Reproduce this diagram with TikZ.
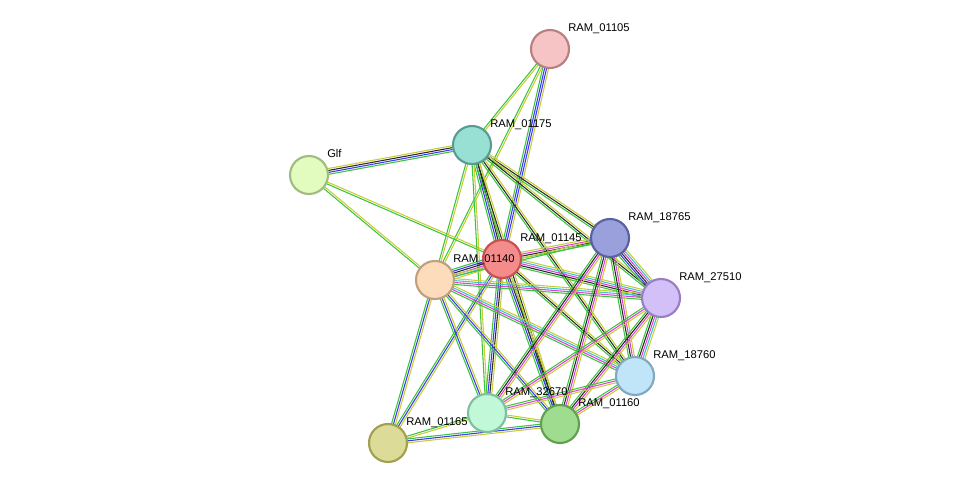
\documentclass[tikz,border=0pt]{standalone}
\usepackage{fontspec}
\setmainfont{Liberation Sans}
\usetikzlibrary{calc}
\definecolor{sg}{HTML}{3CC43C}
\definecolor{sb}{HTML}{3A3AF0}
\definecolor{sk}{HTML}{2A2A2A}
\definecolor{sy}{HTML}{C8CC38}
\definecolor{sm}{HTML}{E040D8}
\definecolor{sc}{HTML}{40C4D0}
\newcommand\sedge[3]{%
  \foreach \c [count=\n] in {#3}{\xdef\nn{\n}}%
  \foreach \c [count=\i] in {#3}{%
    \pgfmathsetmacro\o{(\i-(\nn+1)/2)*1.45}%
    \draw[\c,line width=0.8pt] ($(#1)!\o pt!90:(#2)$) -- ($(#2)!\o pt!-90:(#1)$);}}
\tikzset{nd/.style={circle,minimum size=28.5pt,inner sep=0pt,line width=1.6pt},
 lb/.style={anchor=base west,font=\fontsize{8.4}{9}\selectfont,inner sep=0pt}}
\begin{document}
\begin{tikzpicture}[x=0.75pt,y=-0.75pt]
\useasboundingbox (0,0) rectangle (975,489);
\coordinate (a05) at (550,49);
\coordinate (a75) at (472,145);
\coordinate (glf) at (309,175);
\coordinate (r65) at (610,238);
\coordinate (a45) at (502,259);
\coordinate (a40) at (435,280);
\coordinate (r10) at (661,298);
\coordinate (r60) at (635,376);
\coordinate (p70) at (487,413);
\coordinate (a60) at (560,424);
\coordinate (a65) at (388,443);
\sedge{a05}{a75}{sg,sy}
\sedge{a05}{a45}{sg,sb,sb,sy}
\sedge{a05}{a40}{sg,sy}
\sedge{glf}{a75}{sg,sb,sk,sy}
\sedge{glf}{a45}{sg,sy}
\sedge{glf}{a40}{sg,sy}
\sedge{a75}{a45}{sg,sb,sk,sy}
\sedge{a75}{a40}{sg,sy}
\sedge{a75}{r65}{sg,sk,sy}
\sedge{a75}{r10}{sg,sk,sy}
\sedge{a75}{r60}{sg,sk,sy}
\sedge{a75}{a60}{sg,sk,sy}
\sedge{a75}{p70}{sg,sy}
\sedge{a45}{a40}{sg,sb,sk,sm,sc,sy}
\sedge{a45}{r65}{sg,sk,sm,sy}
\sedge{a45}{r10}{sg,sk,sm,sc,sy}
\sedge{a45}{r60}{sg,sk,sy}
\sedge{a45}{p70}{sg,sb,sk,sy}
\sedge{a45}{a60}{sg,sb,sk,sy}
\sedge{a45}{a65}{sg,sb,sy}
\sedge{a40}{r65}{sg,sy}
\sedge{a40}{r10}{sg,sm,sc,sy}
\sedge{a40}{r60}{sg,sm,sc,sy}
\sedge{a40}{p70}{sg,sb,sy}
\sedge{a40}{a60}{sg,sb,sy}
\sedge{a40}{a65}{sg,sb,sy}
\sedge{r65}{r10}{sg,sb,sk,sm,sc,sy}
\sedge{r65}{r60}{sg,sk,sm,sy}
\sedge{r65}{p70}{sg,sk,sm,sy}
\sedge{r65}{a60}{sg,sk,sm,sy}
\sedge{r10}{r60}{sg,sk,sm,sc,sy}
\sedge{r10}{p70}{sg,sm,sy}
\sedge{r10}{a60}{sg,sk,sm,sy}
\sedge{r60}{p70}{sg,sm,sy}
\sedge{r60}{a60}{sg,sm,sy}
\sedge{p70}{a60}{sg,sy}
\sedge{p70}{a65}{sg,sy}
\sedge{a60}{a65}{sg,sb,sy}
\foreach \p/\f/\d/\t in {
 a05/F6C4C4/B88080/RAM\_01105,
 a75/98E0D4/5A9C94/RAM\_01175,
 glf/E2FCC0/A0BC80/Glf,
 r65/9AA0DC/5A60A0/RAM\_18765,
 a45/F58C8C/C85050/RAM\_01145,
 a40/FDDCBC/C0A080/RAM\_01140,
 r10/D4C0F8/9880C0/RAM\_27510,
 r60/C0E4F8/80A8C0/RAM\_18760,
 p70/C0F8D8/80C0A0/RAM\_32670,
 a60/A0DC90/60A050/RAM\_01160,
 a65/DCDC98/A0A050/RAM\_01165}{
 \definecolor{ff}{HTML}{\f}\definecolor{dd}{HTML}{\d}
 \node[nd,fill=ff,draw=dd] (n\p) at (\p) {};
 \node[lb] (l\p) at ($(\p)+(18,-17.5)$) {\t};
}
\end{tikzpicture}
\end{document}
